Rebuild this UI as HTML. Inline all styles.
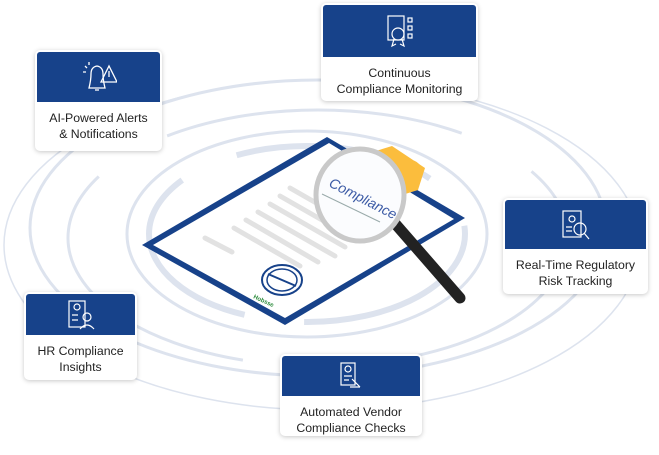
<!DOCTYPE html>
<html><head><meta charset="utf-8"><style>
body{margin:0;width:659px;height:455px;background:#fff;position:relative;overflow:hidden;font-family:"Liberation Sans",sans-serif}
.card{position:absolute;background:#fff;border-radius:5px;box-shadow:0 1px 5px rgba(0,0,0,.22);box-sizing:border-box;padding:2px}
.hd{background:#17428a;border-radius:3px 3px 0 0;display:flex;align-items:center;justify-content:center}
.tx{text-align:center;font-size:12.3px;line-height:16px;color:#222;padding-top:8px}
svg.bg{position:absolute;left:0;top:0}
</style></head><body>
<svg class="bg" width="659" height="455" viewBox="0 0 659 455">
<g fill="none" stroke="#dde3ee">
<ellipse cx="322" cy="245" rx="318" ry="165" stroke-width="1.5"/>
<ellipse cx="318" cy="228" rx="288" ry="148" stroke-width="3"/>
<ellipse cx="318" cy="238" rx="250" ry="128" stroke-width="3" stroke-dasharray="300 80"/>
<ellipse cx="307" cy="234" rx="180" ry="103" stroke-width="3"/>
<ellipse cx="307" cy="234" rx="158" ry="88" stroke-width="6" stroke-dasharray="200 60"/>
</g>
<!-- clipboard -->
<polygon points="327,137 142,245 285,325 465,218" fill="#17428a"/>
<polygon points="329,143 153,245 285,318 454,219" fill="#fff"/>
<g stroke="#e2e2e2" stroke-width="5" stroke-linecap="round">
<line x1="290" y1="188" x2="360" y2="228"/><line x1="280" y1="196" x2="350" y2="236"/>
<line x1="270" y1="204" x2="345" y2="247"/><line x1="258" y1="212" x2="335" y2="256"/>
<line x1="246" y1="220" x2="318" y2="262"/><line x1="234" y1="228" x2="300" y2="266"/>
<line x1="205" y1="238" x2="232" y2="252"/>
</g>
<ellipse cx="282" cy="280" rx="20" ry="15" fill="none" stroke="#17428a" stroke-width="2"/>
<ellipse cx="282" cy="280" rx="15" ry="11" fill="none" stroke="#17428a" stroke-width="1.5"/>
<line x1="268" y1="274" x2="296" y2="286" stroke="#17428a" stroke-width="2"/>
<text x="253" y="298" font-size="6" fill="#2a8a3a" font-weight="bold" transform="rotate(25 253 298)">Hobsse</text>
<polygon points="366,154 392,146 425,168 418,190 402,195" fill="#fbbd3d"/>
<circle cx="410" cy="172" r="12" fill="#fbbd3d"/>
<line x1="392" y1="220" x2="460" y2="298" stroke="#222" stroke-width="11" stroke-linecap="round"/>
<ellipse cx="360" cy="195" rx="44" ry="46" fill="#fbfcfe" stroke="#c9c9c9" stroke-width="5"/>
<text x="328" y="186" font-size="14" fill="#3b5aa5" font-style="italic" transform="rotate(27 328 186)">Compliance</text>
<line x1="322" y1="194" x2="380" y2="222" stroke="#9aa" stroke-width="1"/>
</svg>

<div class="card" style="left:35px;top:50px;width:127px;height:101px">
<div class="hd" style="height:50px"><svg width="36" height="34" fill="none" stroke="#fff" stroke-width="1.3"><path d="M8 28 Q10 20 10 14 Q10 7 16 6 Q22 7 22 14 Q22 20 24 28Z"/><path d="M14 30h4"/><path d="M20 22l8-16 8 16z"/><line x1="28" y1="11" x2="28" y2="17"/><path d="M4 6l2 2M2 12h3M8 2v3"/></svg></div>
<div class="tx">AI-Powered Alerts<br>&amp; Notifications</div></div>

<div class="card" style="left:321px;top:3px;width:157px;height:98px">
<div class="hd" style="height:52px"><svg width="32" height="34" fill="none" stroke="#fff" stroke-width="1.2"><rect x="4" y="2" width="16" height="24"/><circle cx="14" cy="20" r="6"/><path d="M10 25l-2 7 4-2M18 25l2 7-4-2"/><rect x="24" y="4" width="4" height="4"/><rect x="24" y="12" width="4" height="4"/><rect x="24" y="20" width="4" height="4"/></svg></div>
<div class="tx">Continuous<br>Compliance Monitoring</div></div>

<div class="card" style="left:503px;top:198px;width:145px;height:96px">
<div class="hd" style="height:49px"><svg width="36" height="36" fill="none" stroke="#fff" stroke-width="1.2"><rect x="5" y="4" width="18" height="26"/><circle cx="14" cy="12" r="3"/><path d="M8 20h6M8 24h6"/><circle cx="22" cy="22" r="6"/><line x1="26" y1="26" x2="31" y2="32"/></svg></div>
<div class="tx">Real-Time Regulatory<br>Risk Tracking</div></div>

<div class="card" style="left:24px;top:292px;width:113px;height:88px">
<div class="hd" style="height:41px"><svg width="30" height="32" fill="none" stroke="#fff" stroke-width="1.2"><rect x="3" y="2" width="16" height="26"/><circle cx="11" cy="8" r="3"/><path d="M6 16h6M6 21h6"/><circle cx="21" cy="18" r="4"/><path d="M14 30q7-8 14 0"/></svg></div>
<div class="tx">HR Compliance<br>Insights</div></div>

<div class="card" style="left:280px;top:354px;width:142px;height:82px">
<div class="hd" style="height:40px"><svg width="30" height="30" fill="none" stroke="#fff" stroke-width="1.2"><rect x="5" y="2" width="14" height="22"/><circle cx="12" cy="8" r="3"/><path d="M8 15h8M8 19h5"/><path d="M16 18l8 8M14 26h10"/></svg></div>
<div class="tx">Automated Vendor<br>Compliance Checks</div></div>
</body></html>
